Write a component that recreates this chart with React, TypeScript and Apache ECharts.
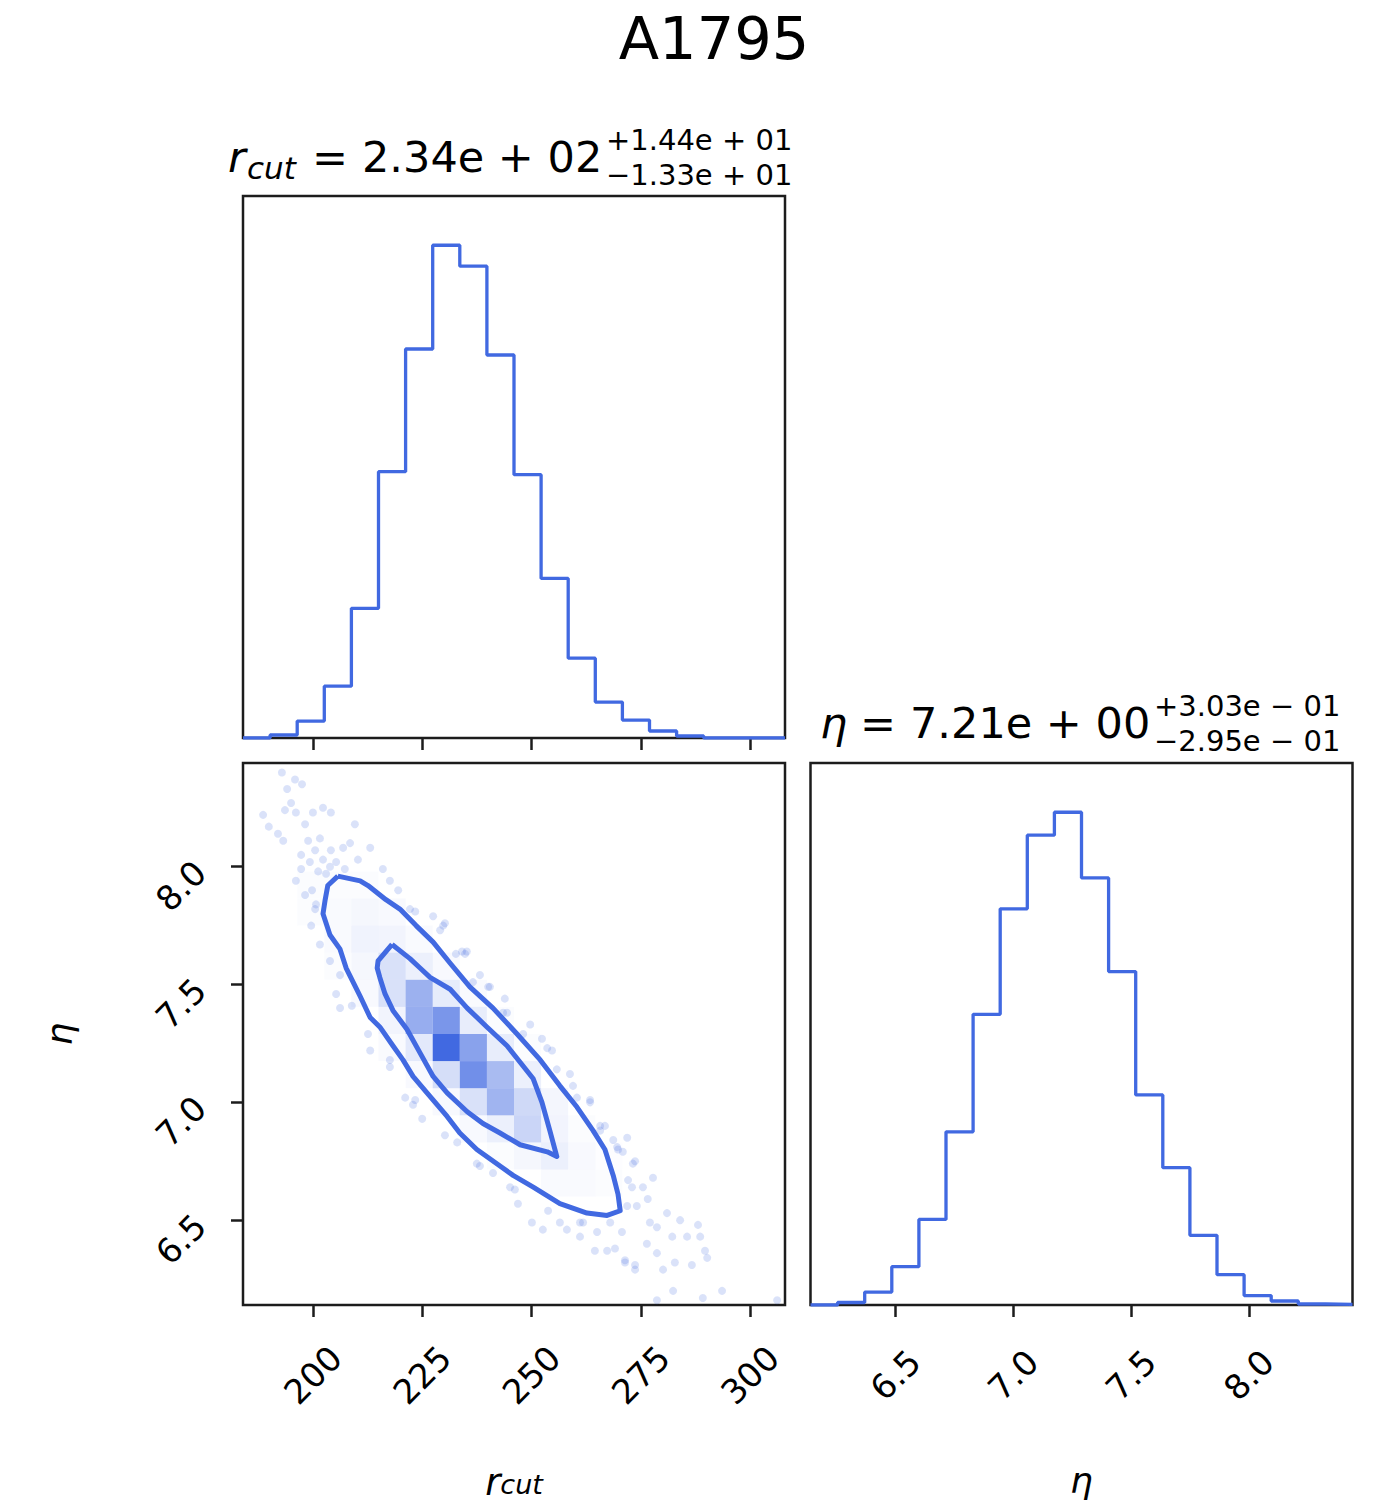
import React, { useEffect, useRef } from "react";
import * as echarts from "echarts";

// ---------------- data ----------------
const TITLE = "A1795";
const RCUT_RANGE = [184, 308];
const ETA_RANGE = [6.14, 8.44];

// 1D histogram counts (20 bins over each range)
const rcutCounts = [0, 3, 17, 52, 130, 267, 390, 494, 473, 384, 264, 160, 80, 36, 18, 7, 2, 0, 0, 0];
const etaCounts = [0, 2.5, 13, 38.5, 86, 174, 292, 398, 472, 495, 429, 335, 211, 138, 70, 30.5, 9.5, 4, 1, 0.7];

const rcutTicks = [200, 225, 250, 275, 300];
const etaTicks = [6.5, 7.0, 7.5, 8.0];

// 2D density cells: [rcut bin index, eta bin index, relative density]
const densityCells = [
  [2, 15, 0.02], [3, 15, 0.02], [4, 15, 0.02],
  [2, 14, 0.02], [3, 14, 0.03], [4, 14, 0.05], [5, 14, 0.04],
  [3, 13, 0.03], [4, 13, 0.08], [5, 13, 0.07], [6, 13, 0.03],
  [3, 12, 0.02], [4, 12, 0.05], [5, 12, 0.2], [6, 12, 0.1], [7, 12, 0.04],
  [4, 11, 0.04], [5, 11, 0.2], [6, 11, 0.52], [7, 11, 0.13], [8, 11, 0.03],
  [5, 10, 0.07], [6, 10, 0.55], [7, 10, 0.7], [8, 10, 0.12], [9, 10, 0.02],
  [5, 9, 0.03], [6, 9, 0.15], [7, 9, 1.0], [8, 9, 0.62], [9, 9, 0.12], [10, 9, 0.02],
  [6, 8, 0.04], [7, 8, 0.22], [8, 8, 0.75], [9, 8, 0.45], [10, 8, 0.1],
  [7, 7, 0.04], [8, 7, 0.2], [9, 7, 0.5], [10, 7, 0.25], [11, 7, 0.06],
  [8, 6, 0.04], [9, 6, 0.1], [10, 6, 0.28], [11, 6, 0.07], [12, 6, 0.02],
  [9, 5, 0.02], [10, 5, 0.05], [11, 5, 0.1], [12, 5, 0.04], [13, 5, 0.01],
  [11, 4, 0.03], [12, 4, 0.03], [13, 4, 0.02],
];

// samples visible outside the outer contour: [rcut, eta]
const samplePoints = [
  [192.9, 8.40], [195.9, 8.37], [194.1, 8.33], [197.5, 8.35], [188.6, 8.22], [189.9, 8.17], [192.0, 8.14],
  [193.6, 8.24], [196.1, 8.23], [198.2, 8.18], [200.0, 8.23], [202.3, 8.25], [204.1, 8.23], [198.9, 8.11],
  [201.6, 8.12], [204.1, 8.07], [205.3, 8.02], [206.9, 8.08], [209.6, 8.18], [208.5, 8.10], [213.1, 8.08],
  [210.3, 8.03], [202.3, 8.03], [199.3, 8.02], [196.1, 7.94], [198.2, 7.88], [200.5, 7.82], [199.6, 7.75],
  [201.6, 7.67], [203.9, 7.60], [205.3, 7.46], [206.2, 7.40], [216.0, 7.99], [217.6, 7.94], [219.5, 7.90],
  [222.2, 7.82], [227.5, 7.79], [229.8, 7.75], [232.7, 7.63], [234.8, 7.63], [236.6, 7.51], [240.5, 7.49],
  [243.5, 7.38], [197.3, 8.05], [195.0, 8.27], [193.2, 8.11], [203.0, 7.97], [200.5, 8.07], [197.3, 7.99],
  [230.2, 7.76], [235.2, 7.64], [240.1, 7.49], [244.4, 7.38], [248.1, 7.29], [252.4, 7.27], [253.6, 7.23],
  [255.8, 7.14], [259.5, 7.07], [263.4, 7.00], [265.7, 6.90], [268.7, 6.84], [270.9, 6.79], [271.9, 6.85],
  [273.2, 6.74], [213.1, 7.22], [217.6, 7.18], [221.1, 7.02], [222.9, 6.99], [225.0, 6.93], [233.0, 6.83],
  [237.5, 6.74], [241.2, 6.70],
  [260.4, 7.02], [265.7, 6.88], [269.6, 6.81], [273.7, 6.75], [277.8, 6.68], [275.5, 6.64], [273.0, 6.64],
  [271.9, 6.56], [274.1, 6.56], [276.6, 6.59], [281.0, 6.53], [284.0, 6.50], [288.1, 6.48], [285.6, 6.43],
  [282.2, 6.43], [278.7, 6.47], [276.4, 6.40], [278.7, 6.36], [273.7, 6.31], [271.4, 6.32], [280.1, 6.29],
  [282.8, 6.32], [286.7, 6.31], [289.7, 6.37], [290.2, 6.34], [288.6, 6.43], [268.0, 6.49], [265.0, 6.45],
  [261.1, 6.43], [258.1, 6.46], [261.8, 6.49], [264.5, 6.37], [267.3, 6.37], [250.1, 6.49], [252.6, 6.46],
  [245.1, 6.64], [246.9, 6.57], [256.5, 6.49], [270.7, 6.45], [269.1, 6.38], [277.1, 6.49], [282.4, 6.20],
  [293.6, 6.20], [289.2, 6.17], [306.2, 6.16], [278.7, 6.16], [273.7, 6.29], [271.4, 6.33],
  [223.4, 7.81], [229.1, 7.73], [234.1, 7.64], [238.2, 7.54], [243.9, 7.44], [249.7, 7.33], [254.7, 7.22],
  [258.8, 7.12], [263.4, 7.01], [266.8, 6.90], [269.8, 6.80], [272.1, 6.67],
  [206.2, 7.54], [208.9, 7.41], [212.6, 7.29], [217.6, 7.15], [223.4, 7.01], [230.2, 6.86], [238.2, 6.73],
  [246.2, 6.63], [253.8, 6.54], [261.1, 6.49],
  [201.2, 7.98], [203.9, 8.00], [207.3, 7.99], [199.8, 7.90], [200.7, 7.84],
];

// contour lines: [rcut, eta]
const contourOuter = [
  [205.7, 7.96], [210.8, 7.94], [212.6, 7.92], [216.7, 7.86], [219.9, 7.82], [223.6, 7.75], [227.5, 7.68],
  [231.4, 7.59], [235.9, 7.49], [241.2, 7.40], [246.7, 7.29], [252.0, 7.18], [256.5, 7.07], [260.4, 6.98],
  [264.1, 6.88], [266.8, 6.80], [268.7, 6.69], [269.8, 6.61], [270.3, 6.54], [267.3, 6.52], [262.7, 6.53],
  [256.5, 6.57], [250.4, 6.64], [245.8, 6.69], [242.8, 6.73], [237.5, 6.80], [233.6, 6.87], [230.7, 6.94],
  [226.1, 7.04], [222.9, 7.11], [220.6, 7.18], [218.3, 7.24], [215.3, 7.32], [213.1, 7.36], [210.8, 7.45],
  [207.6, 7.57], [206.2, 7.65], [203.9, 7.71], [202.3, 7.80], [202.8, 7.86], [203.4, 7.92], [205.7, 7.96],
];
const contourInner = [
  [218.1, 7.67], [222.2, 7.61], [224.5, 7.57], [226.8, 7.53], [231.4, 7.48], [235.3, 7.40], [239.8, 7.32],
  [244.4, 7.24], [247.4, 7.17], [250.4, 7.10], [252.4, 7.00], [254.2, 6.88], [255.8, 6.77], [253.6, 6.79],
  [247.4, 6.82], [242.8, 6.87], [238.9, 6.91], [235.3, 6.96], [230.7, 7.04], [227.5, 7.11], [224.5, 7.21],
  [221.5, 7.31], [218.3, 7.39], [216.5, 7.46], [215.3, 7.53], [214.7, 7.57], [214.9, 7.60], [218.1, 7.67],
];

// ---------------- helpers ----------------
const FONT = "DejaVu Sans";
const BLUE = "#4169e1";
const SPINE = "#1c1c1c";

function binEdge(range: number[], n: number, i: number) {
  return range[0] + ((range[1] - range[0]) * i) / n;
}
function stepData(counts: number[], range: number[]) {
  const n = counts.length;
  const pts: number[][] = [[range[0], 0]];
  counts.forEach((c, i) => pts.push([binEdge(range, n, i + 1), c]));
  pts.push([range[1], 0]);
  return pts;
}

const tick = (vals: number[]) => ({
  show: true,
  inside: false,
  length: 12,
  customValues: vals,
  lineStyle: { color: SPINE, width: 2.5 },
});

const tickLabel = (vals: number[], fmt: (v: number) => string) => ({
  show: true,
  customValues: vals,
  rotate: 45,
  align: "center",
  verticalAlign: "middle",
  margin: 70,
  fontSize: 34,
  fontFamily: FONT,
  color: "#000",
  formatter: (v: number) => fmt(v),
});

const gridBox = (left: number, top: number) => ({
  left,
  top,
  width: 542,
  height: 542,
  show: true,
  borderColor: SPINE,
  borderWidth: 2.5,
  backgroundColor: "transparent",
  outerBoundsMode: "none",
  containLabel: false,
});

function textEl(text: string, x: number, y: number, size: number, italic = false, align = "left") {
  return {
    type: "text",
    x,
    y,
    silent: true,
    style: {
      text,
      fontSize: size,
      lineHeight: Math.round(size * 0.96),
      fontFamily: FONT,
      fontStyle: italic ? "italic" : "normal",
      fill: "#000",
      align,
      verticalAlign: "middle",
    },
  };
}

export default function App() {
  const ref = useRef<HTMLDivElement>(null);

  useEffect(() => {
    if (!ref.current) return;
    const chart = echarts.init(ref.current, null, { renderer: "svg", width: 1373, height: 1505 });
    const nB = 20;
    const cellData = densityCells.map(([i, j, v]) => [
      binEdge(RCUT_RANGE, nB, i),
      binEdge(ETA_RANGE, nB, j),
      binEdge(RCUT_RANGE, nB, i + 1),
      binEdge(ETA_RANGE, nB, j + 1),
      v,
    ]);

    const option: any = {
      animation: false,
      backgroundColor: "#fff",
      textStyle: { fontFamily: FONT },
      grid: [gridBox(243, 196), gridBox(243, 763), gridBox(810.5, 763)],
      xAxis: [
        {
          gridIndex: 0, type: "value", min: RCUT_RANGE[0], max: RCUT_RANGE[1],
          axisLine: { show: false }, axisTick: tick(rcutTicks), axisLabel: { show: false },
          splitLine: { show: false },
        },
        {
          gridIndex: 1, type: "value", min: RCUT_RANGE[0], max: RCUT_RANGE[1],
          axisLine: { show: false }, axisTick: tick(rcutTicks),
          axisLabel: tickLabel(rcutTicks, (v) => String(Math.round(v))),
          splitLine: { show: false },
          name: "{a|r}{b|cut}", nameLocation: "middle", nameGap: 176,
          nameTextStyle: {
            verticalAlign: "middle",
            rich: {
              a: { fontSize: 37, fontStyle: "italic", fontFamily: FONT, color: "#000", lineHeight: 34, verticalAlign: "top" },
              b: { fontSize: 27, fontStyle: "italic", fontFamily: FONT, color: "#000", lineHeight: 24, verticalAlign: "bottom", padding: [14, 0, 0, 0] },
            },
          },
        },
        {
          gridIndex: 2, type: "value", min: ETA_RANGE[0], max: ETA_RANGE[1],
          axisLine: { show: false }, axisTick: tick(etaTicks),
          axisLabel: tickLabel(etaTicks, (v) => v.toFixed(1)),
          splitLine: { show: false },
          name: "η", nameLocation: "middle", nameGap: 175,
          nameTextStyle: { fontSize: 36, fontStyle: "italic", fontFamily: FONT, color: "#000", verticalAlign: "middle" },
        },
      ],
      yAxis: [
        { gridIndex: 0, type: "value", min: 0, max: 1.1 * Math.max(...rcutCounts), show: false },
        {
          gridIndex: 1, type: "value", min: ETA_RANGE[0], max: ETA_RANGE[1],
          axisLine: { show: false }, axisTick: tick(etaTicks),
          axisLabel: {
            ...tickLabel(etaTicks, (v) => v.toFixed(1)),
            align: "right",
            margin: 43,
          },
          splitLine: { show: false },
          name: "η", nameLocation: "middle", nameGap: 184, nameRotate: 90,
          nameTextStyle: { fontSize: 36, fontStyle: "italic", fontFamily: FONT, color: "#000", verticalAlign: "middle" },
        },
        { gridIndex: 2, type: "value", min: 0, max: 1.1 * Math.max(...etaCounts), show: false },
      ],
      series: [
        {
          type: "line", xAxisIndex: 0, yAxisIndex: 0, data: stepData(rcutCounts, RCUT_RANGE),
          step: "start", symbol: "none", lineStyle: { color: BLUE, width: 3.3 }, z: 3,
        },
        {
          type: "line", xAxisIndex: 2, yAxisIndex: 2, data: stepData(etaCounts, ETA_RANGE),
          step: "start", symbol: "none", lineStyle: { color: BLUE, width: 3.3 }, z: 3,
        },
        {
          type: "scatter", xAxisIndex: 1, yAxisIndex: 1, data: samplePoints,
          symbolSize: 8, itemStyle: { color: "rgba(65,105,225,0.24)" }, z: 1, silent: true,
        },
        {
          type: "custom", xAxisIndex: 1, yAxisIndex: 1, data: cellData, z: 2, silent: true,
          encode: { x: [0, 2], y: [1, 3] },
          renderItem: (params: any, api: any) => {
            const p0 = api.coord([api.value(0), api.value(3)]);
            const p1 = api.coord([api.value(2), api.value(1)]);
            return {
              type: "rect",
              shape: { x: p0[0], y: p0[1], width: p1[0] - p0[0], height: p1[1] - p0[1] },
              style: { fill: `rgba(65,105,225,${api.value(4)})` },
            };
          },
        },
        {
          type: "line", xAxisIndex: 1, yAxisIndex: 1, data: contourOuter, symbol: "none",
          lineStyle: { color: BLUE, width: 5, join: "round" }, z: 4, silent: true,
        },
        {
          type: "line", xAxisIndex: 1, yAxisIndex: 1, data: contourInner, symbol: "none",
          lineStyle: { color: BLUE, width: 5, join: "round" }, z: 4, silent: true,
        },
      ],
      graphic: [
        textEl(TITLE, 714, 38, 59, false, "center"),
        textEl("r", 228, 157, 43, true),
        textEl("cut", 247, 168, 31, true),
        textEl("=", 312, 157, 43),
        textEl("2.34e + 02", 362, 157, 43),
        textEl("+1.44e + 01", 606, 140, 29),
        textEl("\u22121.33e + 01", 606, 175, 29),
        textEl("η", 820, 723, 43, true),
        textEl("=", 860, 723, 43),
        textEl("7.21e + 00", 910, 723, 43),
        textEl("+3.03e \u2212 01", 1154, 706, 29),
        textEl("\u22122.95e \u2212 01", 1154, 741, 29),
      ],
    };

    chart.setOption(option);
    return () => chart.dispose();
  }, []);

  return (
    <div
      ref={ref}
      style={{ position: "absolute", left: 0, top: 0, width: 1373, height: 1505, background: "#fff" }}
    />
  );
}
